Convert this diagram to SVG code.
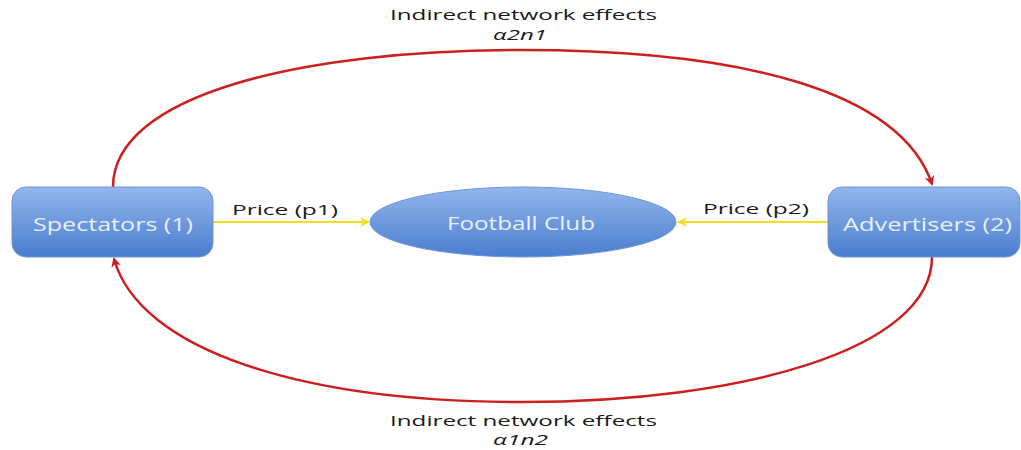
<svg xmlns="http://www.w3.org/2000/svg" width="1021" height="450" viewBox="0 0 1021 450">
<defs>
<linearGradient id="g" x1="0" y1="0" x2="0" y2="1">
<stop offset="0" stop-color="#93b6ec"/>
<stop offset="1" stop-color="#4a7dcf"/>
</linearGradient>
<marker id="ar" viewBox="0 0 10 10" refX="8" refY="5" markerWidth="4" markerHeight="4" orient="auto" markerUnits="strokeWidth">
<path d="M0,0 L10,5 L0,10 L3,5 z" fill="#cc1f1f"/>
</marker>
<marker id="ay" viewBox="0 0 10 10" refX="9" refY="5" markerWidth="5" markerHeight="5" orient="auto" markerUnits="strokeWidth">
<path d="M0,0 L10,5 L0,10 L3,5 z" fill="#f0e020"/>
</marker>
<style>
.node{fill:url(#g);stroke:#6f94d6;stroke-width:1}
.nt{font-family:"Open Sans",sans-serif;font-size:18px;fill:#e9f0fb}
.lb{font-family:"Open Sans",sans-serif;font-size:15px;fill:#1a1a1a}
.red{fill:none;stroke:#cc1f1f;stroke-width:2.5;marker-end:url(#ar)}
.yel{fill:none;stroke:#f0e020;stroke-width:2;marker-end:url(#ay)}
</style>
</defs>
<rect width="1021" height="450" fill="#ffffff"/>
<g id="connectors">
<path class="red" d="M113,187 C113,95 300,50 522,50 C740,50 900,90 932,184"/>
<path class="red" d="M932,257 C932,350 740,402 522,402 C300,402 140,350 114,259"/>
<line class="yel" x1="213" y1="222" x2="369" y2="222"/>
<line class="yel" x1="828" y1="222" x2="678" y2="222"/>
<text class="lb" x="232" y="215" textLength="106" lengthAdjust="spacingAndGlyphs">Price (p1)</text>
<text class="lb" x="703" y="214" textLength="106" lengthAdjust="spacingAndGlyphs">Price (p2)</text>
<text class="lb" x="390" y="20" textLength="267" lengthAdjust="spacingAndGlyphs">Indirect network effects</text>
<text class="lb" x="493" y="40" textLength="54" lengthAdjust="spacingAndGlyphs" font-style="italic">α2n1</text>
<text class="lb" x="390" y="426" textLength="267" lengthAdjust="spacingAndGlyphs">Indirect network effects</text>
<text class="lb" x="493" y="445" textLength="55" lengthAdjust="spacingAndGlyphs" font-style="italic">α1n2</text>
</g>
<g id="spectators">
<rect class="node" x="12" y="187" width="201" height="70" rx="14"/>
<text class="nt" x="33" y="231" textLength="160" lengthAdjust="spacingAndGlyphs">Spectators (1)</text>
</g>
<g id="football-club">
<ellipse class="node" cx="523" cy="222" rx="153" ry="35"/>
<text class="nt" x="447" y="230" textLength="148" lengthAdjust="spacingAndGlyphs">Football Club</text>
</g>
<g id="advertisers">
<rect class="node" x="828" y="187" width="192" height="70" rx="14"/>
<text class="nt" x="843" y="231" textLength="169" lengthAdjust="spacingAndGlyphs">Advertisers (2)</text>
</g>
</svg>
